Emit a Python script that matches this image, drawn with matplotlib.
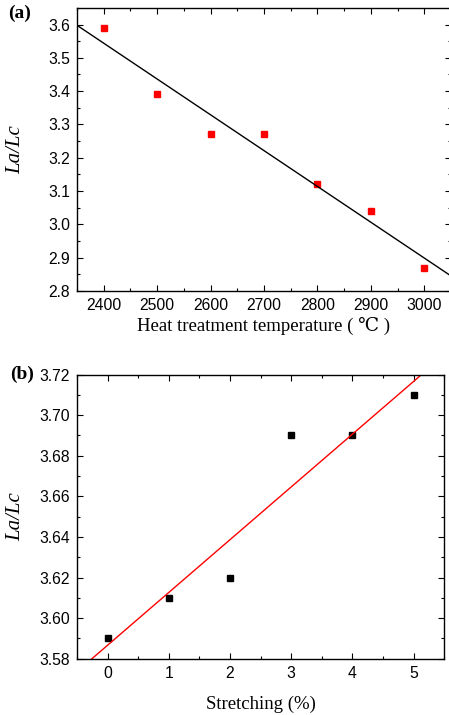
import numpy as np
import matplotlib
matplotlib.use('Agg')
import matplotlib.pyplot as plt
from matplotlib.ticker import MultipleLocator, FormatStrFormatter

# panel (a): heat treatment
temp = [2400, 2500, 2600, 2700, 2800, 2900, 3000]
lalc_a = [3.59, 3.39, 3.27, 3.27, 3.12, 3.04, 2.87]

# panel (b): stretching
stretch = [0, 1, 2, 3, 4, 5]
lalc_b = [3.59, 3.61, 3.62, 3.69, 3.69, 3.71]

serif = ['Liberation Serif', 'DejaVu Serif']
plt.rcParams['font.family'] = ['Liberation Sans', 'DejaVu Sans']
plt.rcParams['font.size'] = 11.3

fig = plt.figure(figsize=(4.49, 7.15), dpi=100)
ax1 = fig.add_axes([0.1715, 0.593, 0.833, 0.396])
ax2 = fig.add_axes([0.1715, 0.0787, 0.818, 0.3974])

def style(ax):
    ax.tick_params(which='both', direction='in', top=True, right=True, width=0.8)
    ax.tick_params(which='major', length=4.5, pad=5)
    ax.tick_params(which='minor', length=2.5)
    for s in ax.spines.values():
        s.set_linewidth(1.0)

# (a)
ax1.plot(temp, lalc_a, 's', color='#ff0000', ms=4.5, mec='#ff0000')
k, b = np.polyfit(temp, lalc_a, 1)
xx = np.array([2350, 3050])
ax1.plot(xx, k * xx + b, color='black', lw=1.0)
ax1.set_xlim(2350, 3050)
ax1.set_ylim(2.8, 3.65)
ax1.xaxis.set_major_locator(MultipleLocator(100))
ax1.xaxis.set_minor_locator(MultipleLocator(50))
ax1.yaxis.set_major_locator(MultipleLocator(0.1))
ax1.yaxis.set_minor_locator(MultipleLocator(0.05))
ax1.yaxis.set_major_formatter(FormatStrFormatter('%.1f'))
style(ax1)
ax1.set_xlabel('Heat treatment temperature ( \u2103 )', family=serif, fontsize=13.5, labelpad=3)
ax1.set_ylabel('La/Lc', family=serif, style='italic', fontsize=15)
ax1.yaxis.set_label_coords(-0.139, 0.5)
fig.text(0.018, 0.982, '(a)', family=serif, fontweight='bold', fontsize=14, va='center')

# (b)
ax2.plot(stretch, lalc_b, 's', color='black', ms=4.5)
k2, b2 = np.polyfit(stretch, lalc_b, 1)
xx2 = np.array([-0.5, 5.5])
ax2.plot(xx2, k2 * xx2 + b2, color='#ff0000', lw=1.0)
ax2.set_xlim(-0.5, 5.5)
ax2.set_ylim(3.58, 3.72)
ax2.xaxis.set_major_locator(MultipleLocator(1))
ax2.xaxis.set_minor_locator(MultipleLocator(0.5))
ax2.yaxis.set_major_locator(MultipleLocator(0.02))
ax2.yaxis.set_minor_locator(MultipleLocator(0.01))
ax2.yaxis.set_major_formatter(FormatStrFormatter('%.2f'))
style(ax2)
ax2.set_xlabel('Stretching (%)', family=serif, fontsize=13.5, labelpad=11)
ax2.set_ylabel('La/Lc', family=serif, style='italic', fontsize=15)
ax2.yaxis.set_label_coords(-0.142, 0.5)
fig.text(0.022, 0.477, '(b)', family=serif, fontweight='bold', fontsize=14, va='center')

fig.savefig('out.png', dpi=100)
